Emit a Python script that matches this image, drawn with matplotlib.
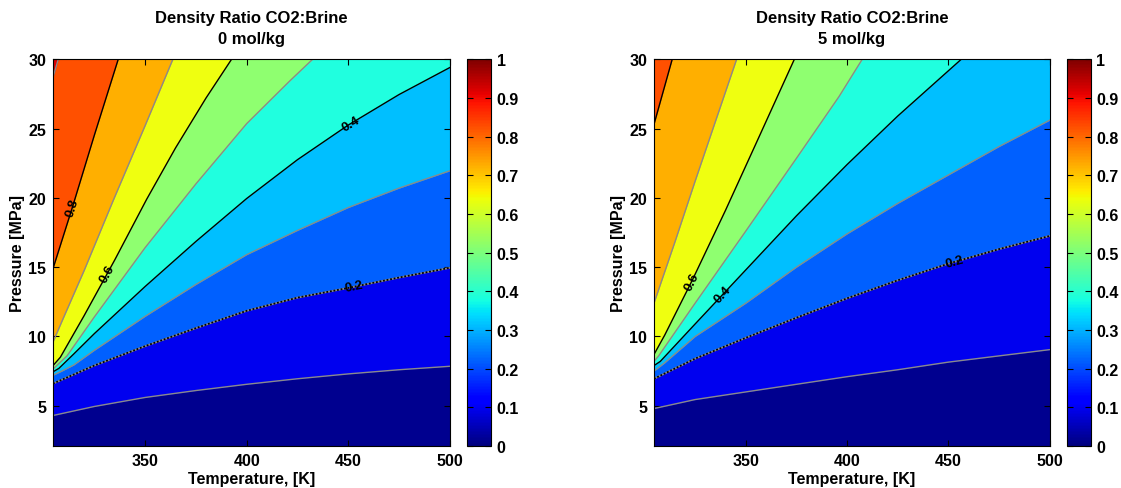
import numpy as np
import matplotlib
matplotlib.use("Agg")
import matplotlib.pyplot as plt
from matplotlib.cm import ScalarMappable
from matplotlib.colors import Normalize

plt.rcParams['font.family'] = ['Liberation Sans', 'DejaVu Sans']
plt.rcParams['font.weight'] = 'bold'

# contour levels of the density ratio
levels = [0.1, 0.2, 0.3, 0.4, 0.5, 0.6, 0.7, 0.8, 0.9]

# iso-ratio lines, (temperature K, pressure MPa)
# 0 mol/kg brine
L01 = [(304.7, 4.3), (325, 4.95), (350, 5.6), (375, 6.1), (400, 6.55), (425, 6.95), (450, 7.3), (475, 7.6), (500, 7.85)]
L02 = [(304.7, 6.6), (325, 7.9), (350, 9.3), (375, 10.6), (400, 11.85), (425, 12.8), (450, 13.5), (475, 14.25), (500, 14.95)]
L03 = [(304.7, 7.2), (309, 7.5), (315, 7.95), (325, 9.0), (350, 11.45), (375, 13.75), (400, 15.9), (425, 17.65), (450, 19.3), (475, 20.7), (500, 21.95)]
L04 = [(304.7, 7.45), (307.6, 7.7), (315, 8.75), (325, 10.2), (350, 13.6), (375, 16.85), (400, 19.95), (425, 22.75), (450, 25.25), (475, 27.45), (500, 29.4)]
L05 = [(304.7, 7.65), (311.6, 8.6), (325, 11.4), (350, 16.4), (375, 21.0), (400, 25.35), (421, 28.4), (432.5, 30)]
L06 = [(304.7, 7.9), (308.3, 8.5), (320, 11.5), (335, 15.5), (350.8, 19.9), (365, 23.6), (380, 27.2), (392.6, 30)]
L07 = [(304.7, 9.6), (310, 11.4), (320, 14.75), (334.3, 19.8), (350, 25.2), (363.7, 30)]
L08 = [(304.7, 14.9), (314.2, 19.3), (325, 24.5), (336.8, 30)]
L09 = [(304.7, 28.7), (307.3, 30)]

# 5 mol/kg brine
R01 = [(304.7, 4.8), (325, 5.45), (350, 6.0), (375, 6.55), (400, 7.1), (425, 7.6), (450, 8.15), (475, 8.6), (500, 9.05)]
R02 = [(304.7, 6.95), (325, 8.4), (350, 9.9), (375, 11.35), (400, 12.75), (425, 14.05), (450, 15.25), (475, 16.3), (500, 17.25)]
R03 = [(304.7, 7.5), (310, 8.1), (325, 10.0), (350, 12.4), (375, 15.0), (400, 17.4), (425, 19.6), (450, 21.65), (475, 23.7), (500, 25.6)]
R04 = [(304.7, 7.9), (307.8, 8.2), (325, 10.9), (350, 14.8), (375, 18.7), (400, 22.4), (425, 25.9), (456.4, 30)]
R05 = [(304.7, 8.2), (307, 8.6), (325, 12.4), (350, 17.6), (375, 22.85), (396, 27.3), (407.5, 30)]
R06 = [(304.7, 8.7), (310, 10.1), (323.4, 14.0), (340, 19.1), (355, 23.9), (374, 30)]
R07 = [(304.7, 12.4), (315, 16.8), (325, 21.2), (335, 25.5), (345.5, 30)]
R08 = [(304.7, 25.3), (313.7, 30)]

left_lines = [L01, L02, L03, L04, L05, L06, L07, L08, L09]
right_lines = [R01, R02, R03, R04, R05, R06, R07, R08]

# inline labels: (level, temperature)
left_labels = [(0.8, 314.2), (0.6, 331.5), (0.4, 451.5), (0.2, 453)]
right_labels = [(0.6, 323.4), (0.4, 338.7), (0.2, 453)]

titles = ["Density Ratio CO2:Brine\n0 mol/kg", "Density Ratio CO2:Brine\n5 mol/kg"]

# band colours, MATLAB jet(64)
band_colors = ['#00008F', '#0000EF', '#0060FF', '#00BFFF', '#20FFDF',
               '#8FFF70', '#EFFF10', '#FFAF00', '#FF5000', '#DF0000']

T_MIN, T_MAX = 304.7, 500
P_MIN, P_MAX = 2.1, 30

fig = plt.figure(figsize=(11.21, 4.89), dpi=100)
ax_l = fig.add_axes([0.0473, 0.0859, 0.354, 0.791])
ax_r = fig.add_axes([0.5834, 0.0859, 0.353, 0.791])
cax_l = fig.add_axes([0.4166, 0.0859, 0.0214, 0.791])
cax_r = fig.add_axes([0.9515, 0.0859, 0.0214, 0.791])


def label_angle(ax, t, p, t0):
    i = int(np.searchsorted(t, t0))
    i = min(max(i, 1), len(t) - 1)
    a = ax.transData.transform((t[i - 1], p[i - 1]))
    b = ax.transData.transform((t[i], p[i]))
    return np.degrees(np.arctan2(b[1] - a[1], b[0] - a[0]))


def draw_panel(ax, cax, lines, labels, title):
    ax.set_xlim(T_MIN, T_MAX)
    ax.set_ylim(P_MIN, P_MAX)
    ax.set_facecolor(band_colors[0])
    # layered fills: region above each iso-line
    for k, pts in enumerate(lines):
        t = [q[0] for q in pts]
        p = [q[1] for q in pts]
        ax.fill_between(t, p, P_MAX, color=band_colors[k + 1], lw=0, zorder=1)
    for k, pts in enumerate(lines):
        t = [q[0] for q in pts]
        p = [q[1] for q in pts]
        if k % 2 == 0:
            ax.plot(t, p, color='#8a8a8a', lw=1.0, zorder=2)
        elif k == 1:
            ax.plot(t, p, color='#8a8a8a', lw=1.3, zorder=2)
            ax.plot(t, p, color='black', lw=1.3, ls=(0, (1, 1)), zorder=3)
        else:
            ax.plot(t, p, color='black', lw=1.0, zorder=3)
    for lvl, t0 in labels:
        pts = lines[levels.index(lvl)]
        t = np.array([q[0] for q in pts])
        p = np.array([q[1] for q in pts])
        p0 = np.interp(t0, t, p)
        ang = label_angle(ax, t, p, t0)
        ax.text(t0, p0, '%g' % lvl, rotation=ang, rotation_mode='anchor',
                ha='center', va='center', fontsize=9.5, color='black', zorder=4)

    ax.set_xticks([350, 400, 450, 500])
    ax.set_yticks([5, 10, 15, 20, 25, 30])
    ax.tick_params(direction='in', top=True, right=True, length=4, width=0.8,
                   labelsize=11.5, pad=5)
    for s in ax.spines.values():
        s.set_linewidth(0.8)
    ax.set_xlabel("Temperature, [K]", fontsize=11.5, fontweight='bold', labelpad=2)
    ax.set_ylabel("Pressure [MPa]", fontsize=11.5, fontweight='bold', labelpad=2)
    ax.set_title(title, fontsize=12, fontweight='bold', pad=12, linespacing=1.45)

    sm = ScalarMappable(norm=Normalize(0, 1), cmap='jet')
    cb = fig.colorbar(sm, cax=cax)
    cb.set_ticks(np.arange(0, 1.01, 0.1))
    cb.set_ticklabels(['0', '0.1', '0.2', '0.3', '0.4', '0.5', '0.6', '0.7', '0.8', '0.9', '1'])
    cax.tick_params(direction='in', left=True, right=True, length=4, width=0.8,
                    labelsize=11.5, pad=4)
    cb.outline.set_linewidth(0.8)


draw_panel(ax_l, cax_l, left_lines, left_labels, titles[0])
draw_panel(ax_r, cax_r, right_lines, right_labels, titles[1])

fig.savefig("out.png", dpi=100)
